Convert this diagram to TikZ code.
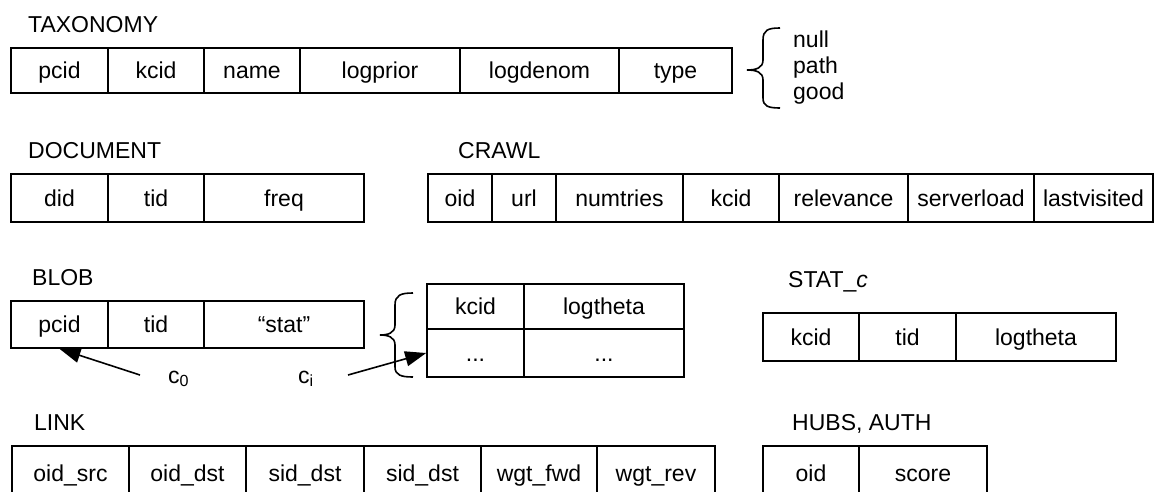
\documentclass[tikz,border=0pt]{standalone}
\usepackage{fontspec}
\setmainfont{Liberation Sans}
\usetikzlibrary{arrows.meta}
\tikzset{
  cell/.style={draw, line width=1.6pt, inner sep=0pt, text height=16.5pt, text depth=0pt},
  lbl/.style={anchor=base west, inner sep=0pt},
  arr/.style={line width=1.6pt, -{Triangle[length=21pt,width=15pt]}},
  brc/.style={line width=1.6pt},
}
\newcommand\dotsx{.{}.{}.}
\newcommand\trow[4]{%
  \foreach \l/\r/\t [count=\i] in {#4} {
    \node[cell, minimum width={(\r-\l)*1pt}, minimum height={(#3-#2)*1pt}]
      (#1\i) at ({(\l+\r)/2},{(#2+#3)/2}) {\t};
  }}
\begin{document}
\begin{tikzpicture}[x=1pt,y=-1pt,font=\fontsize{23}{27}\selectfont]
\useasboundingbox (0,0) rectangle (1156,491);
\clip (0,0) rectangle (1156,491);
% TAXONOMY
\node[lbl] (taxl) at (28,32) {TAXONOMY};
\trow{tax}{48}{93}{11/108/pcid,108/204/kcid,204/300/name,300/460/logprior,460/619/logdenom,619/732/type}
\draw[brc] (780,28) .. controls (768,28) and (763,30) .. (763,40) -- (763,60)
  .. controls (763,68) and (756,70) .. (747,70) .. controls (756,70) and (763,72) .. (763,80)
  -- (763,98) .. controls (763,106) and (768,108) .. (780,108);
\node[lbl] (null) at (793,47) {null};
\node[lbl] (path) at (793,73) {path};
\node[lbl] (good) at (793,99) {good};
% DOCUMENT
\node[lbl] (docl) at (28,158) {DOCUMENT};
\trow{doc}{174}{222}{11/108/did,108/204/tid,204/364/freq}
% CRAWL
\node[lbl] (crawll) at (458,158) {CRAWL};
\trow{cr}{174}{222}{428/492/oid,492/556/url,556/683/numtries,683/779/kcid,779/908/relevance,908/1034/serverload,1034/1153/lastvisited}
% BLOB
\node[lbl] (blobl) at (32,285) {BLOB};
\trow{blob}{301}{348}{11/108/pcid,108/204/tid,204/364/“stat”}
\draw[brc] (413,293) .. controls (401,293) and (395,295) .. (395,305) -- (395,325)
  .. controls (395,333) and (388,335) .. (380,335) .. controls (388,335) and (395,337) .. (395,345)
  -- (395,367) .. controls (395,375) and (401,377) .. (413,377);
\trow{in}{284}{329}{427/524/kcid,524/684/logtheta}
\trow{inb}{329}{377}{427/524/\dotsx,524/684/\dotsx}
\node[lbl] (c0) at (168,383) {c\textsubscript{0}};
\node[lbl] (ci) at (298,383) {c\textsubscript{i}};
\coordinate (c0s) at (140,375);
\coordinate (cis) at (348,375);
\draw[arr] (c0s) -- (blob1.south);
\draw[arr] (cis) -- (inb1.west);
% STAT_c
\node[lbl] (statl) at (788,287) {STAT\_\textit{c}};
\trow{st}{313}{361}{763/859/kcid,859/956/tid,956/1116/logtheta}
% LINK
\node[lbl] (linkl) at (34,430) {LINK};
\trow{lk}{446}{500}{12/129/oid\_src,129/246/oid\_dst,246/364/sid\_dst,364/481/sid\_dst,481/597/wgt\_fwd,597/715/wgt\_rev}
% HUBS
\node[lbl] (hubsl) at (792,430) {HUBS, AUTH};
\trow{hb}{446}{500}{763/859/oid,859/987/score}
\end{tikzpicture}
\end{document}
